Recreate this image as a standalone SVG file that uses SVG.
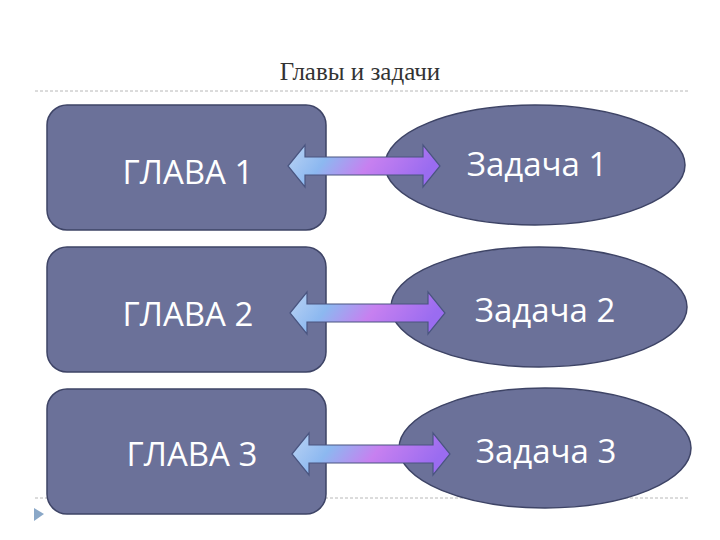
<svg xmlns="http://www.w3.org/2000/svg" width="720" height="540" viewBox="0 0 720 540">
<style>
.box{fill:#6b7199;stroke:#3e4466;stroke-width:1.5}
.t{font-family:"Open Sans","Noto Sans",sans-serif;font-size:33px;fill:#fff;text-anchor:middle}
.dash{stroke:#b8b8b8;stroke-width:1;stroke-dasharray:3,2}
.arr{fill:url(#g);stroke:#4a5580;stroke-width:1.2}
</style>
<defs>
<linearGradient id="g" x1="0" y1="0" x2="1" y2="0.2">
<stop offset="0" stop-color="#bcd4f4"/>
<stop offset="0.3" stop-color="#8cb8f0"/>
<stop offset="0.6" stop-color="#c780f0"/>
<stop offset="1" stop-color="#9a6cf0"/>
</linearGradient>
</defs>
<rect width="720" height="540" fill="#fff"/>
<text x="360" y="80" font-family="Liberation Serif,serif" font-size="25" fill="#333" text-anchor="middle">Главы и задачи</text>
<line class="dash" x1="35" y1="91" x2="690" y2="91"/>
<line class="dash" x1="35" y1="498" x2="690" y2="498"/>
<polygon points="34,508 44,514 34,521" fill="#8aa8c8"/>
<g id="n1"><rect class="box" x="47" y="105" width="279" height="125" rx="20"/><text class="t" x="188" y="184">ГЛАВА 1</text></g>
<g id="n2"><rect class="box" x="47" y="247" width="279" height="125" rx="20"/><text class="t" x="188" y="326">ГЛАВА 2</text></g>
<g id="n3"><rect class="box" x="47" y="389" width="279" height="125" rx="20"/><text class="t" x="192" y="466">ГЛАВА 3</text></g>
<g id="t1"><ellipse class="box" cx="535" cy="165" rx="150" ry="60"/><text class="t" x="537" y="176">Задача 1</text></g>
<g id="t2"><ellipse class="box" cx="539" cy="307" rx="148" ry="60"/><text class="t" x="545" y="322">Задача 2</text></g>
<g id="t3"><ellipse class="box" cx="545" cy="448" rx="146" ry="60"/><text class="t" x="546" y="463">Задача 3</text></g>
<g id="connectors">
<path class="arr" d="M288,166 L305,145 L305,157 L423,157 L423,145 L440,166 L423,187 L423,175 L305,175 L305,187 Z"/>
<path class="arr" d="M290,313 L307,292 L307,304 L428,304 L428,292 L445,313 L428,334 L428,322 L307,322 L307,334 Z"/>
<path class="arr" d="M292,454 L309,433 L309,445 L433,445 L433,433 L450,454 L433,475 L433,463 L309,463 L309,475 Z"/>
</g>
</svg>
